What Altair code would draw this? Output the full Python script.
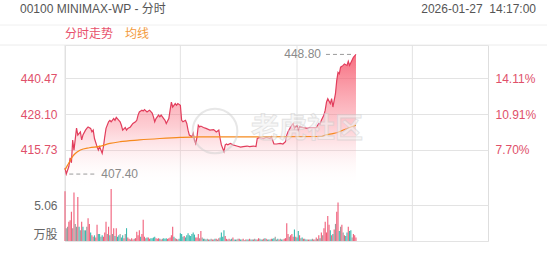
import altair as alt
import pandas as pd

# ---------------- data ----------------
TITLE = "00100 MINIMAX-WP - 分时"
STAMP = "2026-01-27\u00a0\u00a014:17:00"
LEGEND_LINE = "分时走势"
LEGEND_AVG = "均线"
WATERMARK = "老虎社区"
VOLUME_UNIT = "万股"
PREV_CLOSE = 386.0
SESSION_MINUTES = 330  # 09:30-12:00 + 13:00-16:00

time_ticks = [0, 90, 181, 271]
time_labels = ["09:30", "11:00", "13:31", "15:01"]
price_ticks = [415.73, 428.10, 440.47]
volume_ticks = [0, 5.06]

price_minutes = [0, 1, 3, 4, 5, 6, 7, 9, 10, 12, 13, 14, 16, 17, 18, 20, 21, 22, 23, 25,
                 26, 27, 29, 30, 31, 32, 34, 35, 36, 38, 39, 40, 42, 43, 44, 45, 47, 48, 49, 51,
                 52, 53, 55, 56, 57, 58, 60, 61, 62, 64, 65, 66, 68, 69, 70, 71, 73, 74, 75, 77,
                 78, 79, 81, 82, 83, 84, 86, 87, 88, 90, 91, 92, 94, 95, 96, 97, 99, 100, 101, 102,
                 103, 104, 105, 106, 108, 110, 113, 116, 118, 120, 121, 122, 124, 125, 126, 127, 129, 131, 134, 137,
                 139, 142, 144, 147, 149, 150, 152, 155, 157, 160, 161, 163, 165, 168, 170, 172, 173, 174, 176, 177,
                 178, 179, 181, 182, 183, 186, 189, 191, 194, 196, 198, 199, 200, 202, 203, 204, 205, 207, 208, 209,
                 211, 212, 213, 214, 215, 217, 218, 220, 221, 222, 224, 225, 226, 227]
price_values = [409.55, 407.40, 410.0, 413.0, 411.3, 419.2, 415.7, 423.3, 420.9, 422.0, 419.2, 420.9, 422.6, 423.2, 423.7, 423.2, 422.0, 422.6, 419.7, 416.9,
                415.7, 416.9, 414.6, 416.9, 420.3, 423.2, 425.5, 426.0, 425.5, 426.6, 426.0, 427.0, 426.0, 425.5, 424.3, 422.6, 423.5, 422.6, 423.2, 423.7,
                424.3, 424.9, 425.5, 426.0, 427.8, 428.9, 429.5, 429.2, 429.7, 428.9, 429.2, 429.5, 428.5, 427.2, 425.5, 426.6, 427.8, 427.2, 427.8, 426.6,
                426.0, 424.9, 426.6, 429.5, 432.3, 430.6, 431.8, 431.2, 431.8, 431.2, 426.0, 425.5, 426.0, 424.9, 422.6, 420.9, 420.3, 421.5, 419.2, 418.0,
                420.3, 424.3, 423.7, 424.0, 423.5, 423.2, 422.6, 422.8, 422.0, 422.6, 419.7, 417.5, 415.2, 417.5, 417.8, 417.5, 418.0, 417.5, 417.1, 416.7,
                416.9, 417.1, 416.9, 417.1, 416.9, 419.7, 420.1, 419.7, 420.1, 419.7, 420.3, 417.8, 417.8, 418.0, 417.8, 418.6, 420.9, 422.0, 423.7, 424.3,
                424.9, 423.2, 424.3, 422.6, 423.7, 423.5, 423.2, 423.5, 423.5, 423.5, 424.9, 424.7, 426.0, 427.8, 429.5, 432.3, 433.5, 431.8, 433.5, 430.6,
                435.2, 439.8, 442.6, 442.1, 444.4, 445.0, 445.5, 445.0, 446.4, 445.0, 446.9, 447.8, 448.3, 448.8]

avg_minutes = [0, 2, 4, 6, 8, 12, 19, 27, 35, 43, 58, 74, 90, 105, 150, 200, 203, 209, 212, 217, 222, 227]
avg_values = [408.8, 410.5, 412.0, 413.5, 414.5, 415.7, 416.5, 417.0, 418.0, 418.6, 419.2, 419.7, 420.1, 420.3, 420.3, 420.4, 420.9, 421.4, 421.7, 422.6, 423.5, 424.3]

extreme_minutes = [227, 1]
extreme_prices = [448.80, 407.40]
extreme_kinds = ["high", "low"]

# volume per minute (万股), 10 minutes per row
volume_rows = [
    [7.0, 1.8, 2.0, 2.7, 2.9, 4.1, 1.8, 6.8, 2.4, 2.0],
    [6.2, 2.0, 1.5, 2.7, 2.0, 1.5, 1.5, 2.0, 3.2, 2.4],
    [1.2, 0.8, 0.6, 0.8, 0.5, 2.3, 1.0, 1.0, 0.6, 0.8],
    [0.6, 1.2, 2.7, 1.0, 2.0, 0.8, 7.3, 1.0, 1.8, 0.7],
    [1.8, 0.6, 0.8, 1.0, 0.5, 0.8, 0.4, 1.0, 1.8, 0.5],
    [0.3, 0.2, 0.4, 0.2, 0.3, 0.4, 1.3, 0.8, 1.5, 0.6],
    [1.0, 3.0, 0.6, 0.4, 0.5, 0.5, 0.3, 0.4, 0.4, 0.5],
    [0.6, 0.4, 0.3, 0.4, 0.3, 0.2, 0.3, 0.4, 0.3, 0.4],
    [0.3, 0.4, 0.5, 0.8, 2.0, 0.6, 0.4, 0.3, 0.2, 0.3],
    [1.1, 1.0, 0.6, 0.7, 0.5, 0.8, 1.1, 0.8, 0.7, 1.0],
    [1.2, 0.9, 0.5, 0.5, 1.0, 0.4, 1.4, 0.5, 0.3, 0.3],
    [0.2, 0.3, 0.2, 0.2, 0.3, 0.2, 0.2, 0.3, 0.3, 0.2],
    [0.4, 0.5, 1.2, 0.6, 1.5, 0.7, 0.3, 0.2, 0.3, 0.2],
    [0.3, 0.5, 0.2, 0.2, 0.2, 0.3, 0.3, 0.2, 0.2, 0.3],
    [0.1, 0.2, 0.2, 0.2, 0.3, 0.2, 0.2, 0.2, 0.3, 0.2],
    [0.2, 0.4, 0.3, 0.2, 0.2, 0.3, 0.4, 0.3, 0.2, 0.2],
    [0.2, 0.3, 0.3, 0.4, 0.6, 0.2, 0.3, 0.2, 0.3, 0.2],
    [0.2, 0.3, 0.4, 2.5, 1.0, 0.6, 0.8, 1.0, 0.6, 1.6],
    [0.6, 0.5, 1.4, 0.8, 0.4, 0.5, 0.3, 0.3, 0.2, 0.2],
    [0.2, 0.2, 0.2, 0.3, 0.2, 0.2, 0.5, 0.3, 0.8, 0.4],
    [1.2, 0.8, 1.8, 2.7, 1.2, 3.5, 2.3, 1.5, 0.8, 1.0],
    [1.6, 2.4, 4.1, 5.4, 1.4, 2.0, 2.3, 1.2, 0.8, 0.7],
    [1.2, 2.0, 1.4, 1.5, 0.5, 1.0, 0.8, 0.5],
]
# u = up (red), d = down (green), f = flat (grey)
direction_rows = [
    "uffuuufuff", "udfudfdfuu", "dufduuddfd", "uuufudufud", "uddfddufdu",
    "ufuufuuuud", "uuufduuddd", "duuudufddd", "uuuuudufud", "dddudddddd",
    "dduuufufdf", "dfudfufduf", "udddduufuf", "dufdffudfu", "fudfufdufd",
    "uufdfudufd", "fuddffdufd", "fuuuufuuud", "uddufdufdf", "ufdfufufud",
    "ufuuuuudud", "ufuudfufud", "duddfuuu",
]

# ---------------- styling ----------------
FONT = "Liberation Sans, Arial, Noto Sans CJK SC, sans-serif"
RED = "#e23d5c"
LABEL_RED = "#e0506a"
ORANGE = "#f68a1e"
GREY_TEXT = "#666666"
GRID = "#e3e3e3"

price_df = pd.DataFrame({"minute": price_minutes, "price": price_values})
avg_df = pd.DataFrame({"minute": avg_minutes, "avg": avg_values})
ext_df = pd.DataFrame({"minute": extreme_minutes, "price": extreme_prices, "kind": extreme_kinds})
tick_df = pd.DataFrame({"minute": time_ticks, "label": time_labels})
volumes = [v for row in volume_rows for v in row]
dirs = [c for row in direction_rows for c in row]
n = min(len(volumes), len(dirs))
vol_df = pd.DataFrame({"minute": list(range(n)), "volume": volumes[:n], "dir": dirs[:n]})

x_scale = alt.Scale(domain=[0, SESSION_MINUTES], nice=False, zero=False)
price_scale = alt.Scale(domain=[384.24, 452.06], nice=False, zero=False)
vol_scale = alt.Scale(domain=[0, 27.55], nice=False, zero=False)

x_noaxis = alt.X("minute:Q", scale=x_scale, axis=None)

label_expr_time = " : ".join(
    [f"datum.value == {t} ? '{l}'" for t, l in zip(time_ticks, time_labels)]
) + " : ''"

gradient = alt.Gradient(
    gradient="linear",
    stops=[
        alt.GradientStop(color="rgba(245,78,100,0.82)", offset=0),
        alt.GradientStop(color="rgba(250,120,135,0.36)", offset=0.55),
        alt.GradientStop(color="rgba(255,255,255,0)", offset=1),
    ],
    x1=1, x2=1, y1=0, y2=1,
)

# vertical grid lines at the time ticks
vgrid = alt.Chart(tick_df).mark_rule(color=GRID, strokeWidth=1).encode(
    x=x_noaxis, y=alt.value(0), y2=alt.value(196))

area = alt.Chart(price_df).mark_area(color=gradient, interpolate="linear").encode(
    x=x_noaxis,
    y=alt.Y("price:Q", scale=price_scale,
            axis=alt.Axis(orient="left", values=price_ticks, format=".2f", grid=True,
                          labelColor=LABEL_RED, labelPadding=8, title=None)),
    y2=alt.datum(403.0),
)

pct_axis = alt.Chart(price_df).mark_line(opacity=0).encode(
    x=x_noaxis,
    y=alt.Y("price:Q", scale=price_scale,
            axis=alt.Axis(orient="right", values=price_ticks, grid=False,
                          labelExpr=f"format((datum.value / {PREV_CLOSE} - 1) * 100, '.2f') + '%'",
                          labelColor=LABEL_RED, labelPadding=7, title=None)),
)

price_line = alt.Chart(price_df).mark_line(color=RED, strokeWidth=1.2, interpolate="linear").encode(
    x=x_noaxis,
    y=alt.Y("price:Q", scale=price_scale, axis=None),
)

avg_line = alt.Chart(avg_df).mark_line(color=ORANGE, strokeWidth=1.2, interpolate="monotone").encode(
    x=x_noaxis,
    y=alt.Y("avg:Q", scale=price_scale, axis=None),
)

hi = ext_df[ext_df.kind == "high"]
lo = ext_df[ext_df.kind == "low"]

hi_rule = alt.Chart(hi).mark_rule(color="#9a9a9a", strokeDash=[4, 3], strokeWidth=1,
                                  xOffset=-30, x2Offset=-2).encode(
    x=x_noaxis, x2="minute:Q", y=alt.Y("price:Q", scale=price_scale, axis=None))
hi_text = alt.Chart(hi).mark_text(align="right", baseline="middle", dx=-35, color="#8a8a8a",
                                  fontSize=12, font=FONT).encode(
    x=x_noaxis, y=alt.Y("price:Q", scale=price_scale, axis=None),
    text=alt.Text("price:Q", format=".2f"))
lo_rule = alt.Chart(lo).mark_rule(color="#9a9a9a", strokeDash=[4, 3], strokeWidth=1,
                                  xOffset=3, x2Offset=30).encode(
    x=x_noaxis, x2="minute:Q", y=alt.Y("price:Q", scale=price_scale, axis=None))
lo_text = alt.Chart(lo).mark_text(align="left", baseline="middle", dx=35, color="#8a8a8a",
                                  fontSize=12, font=FONT).encode(
    x=x_noaxis, y=alt.Y("price:Q", scale=price_scale, axis=None),
    text=alt.Text("price:Q", format=".2f"))

price_group = alt.layer(area, pct_axis, price_line, avg_line, hi_rule, lo_rule, hi_text, lo_text
                        ).resolve_axis(y="independent")

volume = alt.Chart(vol_df).mark_rule(strokeWidth=1.1, opacity=0.9).encode(
    x=alt.X("minute:Q", scale=x_scale,
            axis=alt.Axis(values=time_ticks, labelExpr=label_expr_time, grid=False,
                          labelAlign="left", labelFlush=False, labelPadding=5,
                          labelColor=GREY_TEXT, title=None)),
    y=alt.Y("volume:Q", scale=vol_scale,
            axis=alt.Axis(orient="left", values=volume_ticks, grid=True, labelFlush=True,
                          labelExpr=f"datum.value == 0 ? '{VOLUME_UNIT}' : format(datum.value, '.2f')",
                          labelColor=GREY_TEXT, labelPadding=8, title=None)),
    y2=alt.datum(0),
    color=alt.Color("dir:N", scale=alt.Scale(domain=["u", "d", "f"],
                                             range=["#ee4d6a", "#25b3a6", "#8f8f8f"]), legend=None),
)

one = pd.DataFrame({"k": [0]})

band = alt.layer(
    alt.Chart(one).mark_rule(color="#f0f0f0", strokeWidth=1).encode(
        x=alt.value(-65), x2=alt.value(482), y=alt.value(-20)),
    alt.Chart(one).mark_rule(color="#ececec", strokeWidth=1).encode(
        x=alt.value(-65), x2=alt.value(482), y=alt.value(0)),
)

header = alt.layer(
    alt.Chart(one).mark_text(text=TITLE, align="left", baseline="middle", fontSize=12,
                             font=FONT, color="#555555").encode(x=alt.value(-45), y=alt.value(-36)),
    alt.Chart(one).mark_text(text=STAMP, align="right", baseline="middle", fontSize=12,
                             font=FONT, color="#555555").encode(x=alt.value(471), y=alt.value(-36)),
    alt.Chart(one).mark_text(text=LEGEND_LINE, align="left", baseline="middle", fontSize=12,
                             font=FONT, color="#e8516c").encode(x=alt.value(0), y=alt.value(-11)),
    alt.Chart(one).mark_text(text=LEGEND_AVG, align="left", baseline="middle", fontSize=12,
                             font=FONT, color="#f39a3c").encode(x=alt.value(60), y=alt.value(-11)),
)

watermark = alt.layer(
    alt.Chart(one).mark_point(shape="circle", size=2000, filled=False, color="#d0d0d0",
                              strokeWidth=2, opacity=0.5).encode(x=alt.value(150), y=alt.value(86)),
    alt.Chart(one).mark_text(text=WATERMARK, align="center", baseline="middle", fontSize=28,
                             fontWeight="bold", font=FONT, fill="#f2f2f2", stroke="#cfcfcf",
                             strokeWidth=0.8, opacity=0.6).encode(x=alt.value(242), y=alt.value(85)),
)

chart = alt.layer(band, vgrid, price_group, volume, header, watermark).resolve_scale(
    y="independent").resolve_axis(y="independent").properties(
    width=423, height=196,
    autosize=alt.AutoSizeParams(type="none"),
    padding={"left": 65, "top": 45, "right": 64, "bottom": 24},
).configure_view(stroke="#dedede", strokeWidth=1).configure_axis(
    domain=False, ticks=False, gridColor=GRID, gridWidth=1,
    labelFont=FONT, labelFontSize=12,
)

chart.save("out.html", embed_options={"renderer": "svg", "actions": False})
